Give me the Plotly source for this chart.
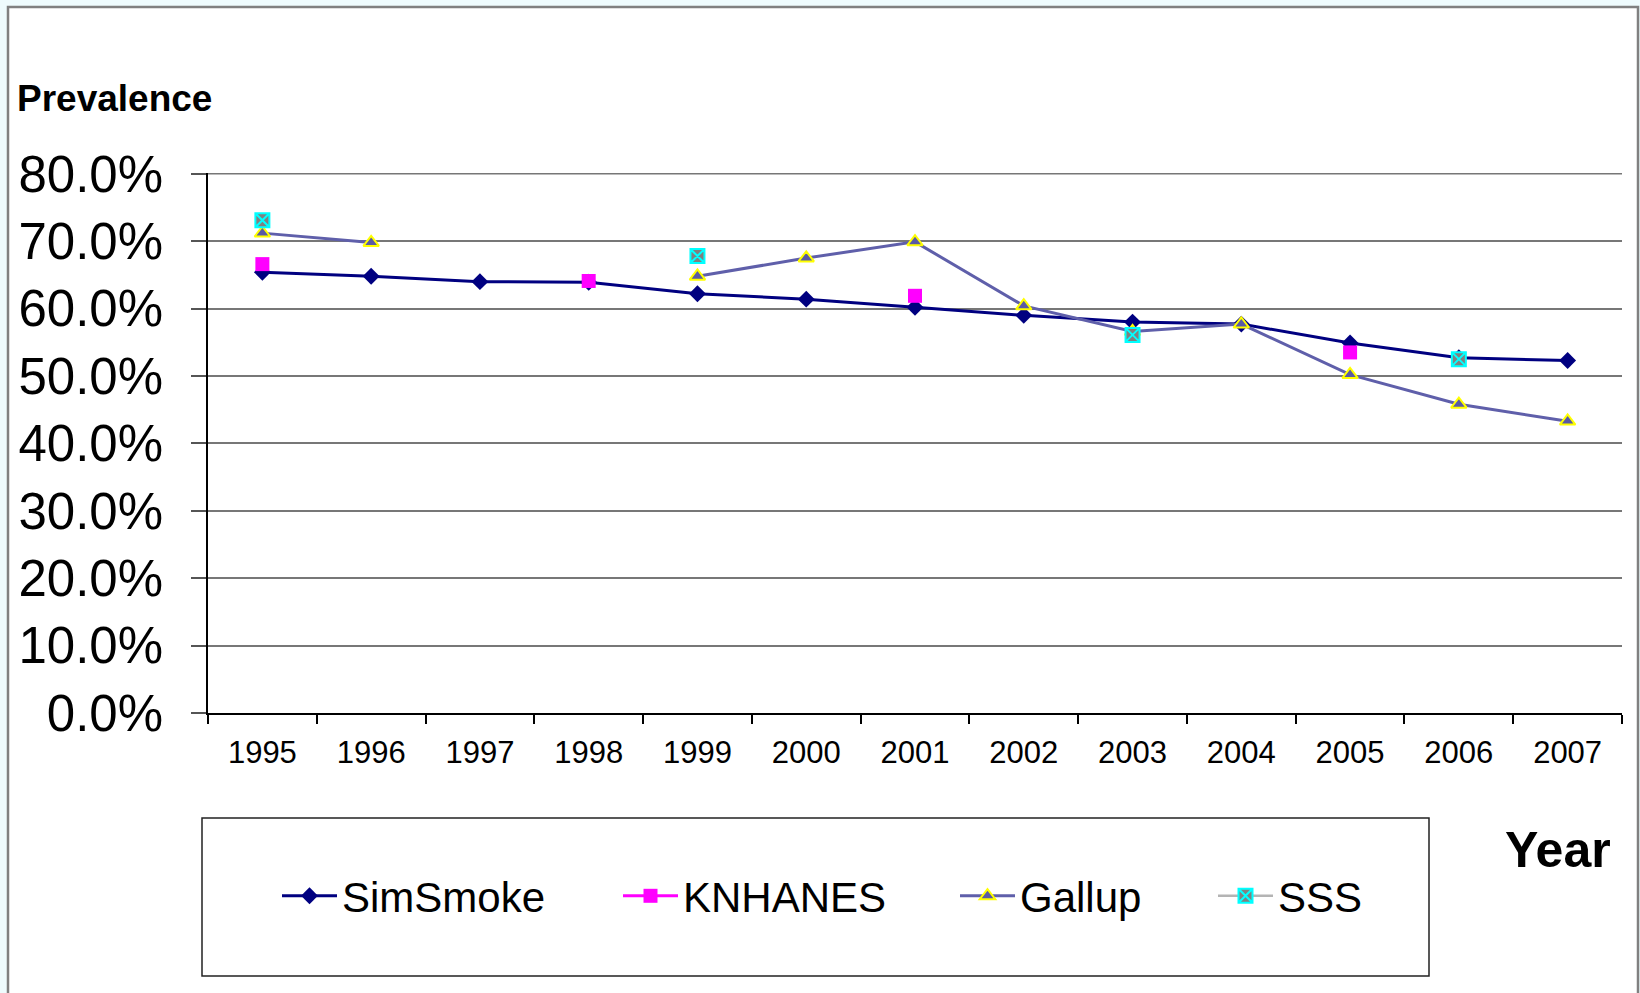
import plotly.graph_objects as go

# ---- data ----
years = ["1995", "1996", "1997", "1998", "1999", "2000", "2001",
         "2002", "2003", "2004", "2005", "2006", "2007"]
simsmoke = [65.4, 64.8, 64.0, 63.9, 62.2, 61.4, 60.2, 59.0, 58.0, 57.7, 54.9, 52.7, 52.3]
knhanes = [66.6, None, None, 64.1, None, None, 61.9, None, None, None, 53.5, None, None]
gallup = [71.2, 69.8, None, None, 64.8, 67.5, 69.9, 60.4, 56.6, 57.7, 50.2, 45.8, 43.3]
sss = [73.1, None, None, None, 67.8, None, None, None, 56.1, None, None, 52.5, None]
y_ticks = [0.0, 0.1, 0.2, 0.3, 0.4, 0.5, 0.6, 0.7, 0.8]

def frac(v):
    return [None if x is None else x / 100.0 for x in v]

W, H = 1640, 993
L, R, T, B = 208, 18, 173, 280
PW, PH = W - L - R, H - T - B

def px_x(p):
    return (p - L) / PW

def px_y(p):
    return (H - B - p) / PH

FONT = "Liberation Sans, Arial, sans-serif"

fig = go.Figure()
fig.add_trace(go.Scatter(
    x=years, y=frac(simsmoke), name="SimSmoke", mode="lines+markers",
    line=dict(color="#000080", width=3),
    marker=dict(symbol="diamond", size=13, color="#000080"),
    legend="legend"))
fig.add_trace(go.Scatter(
    x=years, y=frac(knhanes), name="KNHANES", mode="lines+markers",
    connectgaps=False,
    line=dict(color="#FF00FF", width=3),
    marker=dict(symbol="square", size=14, color="#FF00FF"),
    legend="legend2"))
fig.add_trace(go.Scatter(
    x=years, y=frac(gallup), name="Gallup", mode="lines+markers",
    connectgaps=False,
    line=dict(color="#5F5FAA", width=3),
    marker=dict(symbol="triangle-up", size=13.5, color="#5A5AA5",
                line=dict(color="#FFFF00", width=2)),
    legend="legend3"))
fig.add_trace(go.Scatter(
    x=years, y=frac(sss), name="SSS", mode="lines+markers",
    connectgaps=False,
    line=dict(color="#B4B4B4", width=2.5),
    marker=dict(symbol="square-x", size=14, color="#808080",
                line=dict(color="#00FFFF", width=2)),
    legend="legend4"))

leg_common = dict(orientation="h", xref="container", yref="container",
                  yanchor="middle", xanchor="left", bgcolor="rgba(0,0,0,0)",
                  borderwidth=0, itemwidth=55,
                  font=dict(family=FONT, size=42, color="black"))
leg_y = 1 - 896 / H
fig.update_layout(
    legend=dict(x=277 / W, y=leg_y, **leg_common),
    legend2=dict(x=618 / W, y=leg_y, **leg_common),
    legend3=dict(x=955 / W, y=leg_y, **leg_common),
    legend4=dict(x=1213 / W, y=leg_y, **leg_common),
)

fig.update_layout(
    width=W, height=H,
    margin=dict(l=L, r=R, t=T, b=B, pad=0),
    paper_bgcolor="#EEFBFD",
    plot_bgcolor="white",
    font=dict(family=FONT, color="black"),
    showlegend=True,
    xaxis=dict(
        type="category", tickson="boundaries", range=[-0.5, 12.5],
        ticks="outside", ticklen=9, tickwidth=1.5, tickcolor="black",
        showline=True, linecolor="black", linewidth=1.5,
        showgrid=False, zeroline=False,
        tickfont=dict(family=FONT, size=31, color="black"),
        ticklabelstandoff=11,
    ),
    yaxis=dict(
        range=[0, 0.8012], tickvals=y_ticks, tickformat=".1%",
        ticks="outside", ticklen=15, tickwidth=1.5, tickcolor="#555555",
        showline=True, linecolor="black", linewidth=1.5,
        showgrid=True, gridcolor="#777777", gridwidth=1.5,
        zeroline=False,
        tickfont=dict(family=FONT, size=51, color="black"),
        ticklabelstandoff=18,
    ),
    shapes=[
        dict(type="rect", xref="paper", yref="paper", layer="below",
             x0=px_x(8), x1=px_x(1638), y0=px_y(1010), y1=px_y(7),
             fillcolor="white", line=dict(color="#808080", width=2.5)),
        dict(type="line", xref="paper", yref="y", layer="below",
             x0=0, x1=1, y0=y_ticks[-1], y1=y_ticks[-1],
             line=dict(color="#777777", width=1.5)),
        dict(type="rect", xref="paper", yref="paper",
             x0=px_x(202), x1=px_x(1429), y0=px_y(976), y1=px_y(818),
             fillcolor="rgba(0,0,0,0)", line=dict(color="#222222", width=1.5)),
    ],
    annotations=[
        dict(text="<b>Prevalence</b>", xref="paper", yref="paper",
             x=px_x(15), y=px_y(98), xanchor="left", yanchor="middle",
             showarrow=False, font=dict(family=FONT, size=37, color="black")),
        dict(text="<b>Year</b>", xref="paper", yref="paper",
             x=px_x(1503), y=px_y(850), xanchor="left", yanchor="middle",
             showarrow=False, font=dict(family=FONT, size=50, color="black")),
    ],
)

fig.write_html("out.html", config={"displayModeBar": False},
               post_script="document.body.style.margin='0';")
